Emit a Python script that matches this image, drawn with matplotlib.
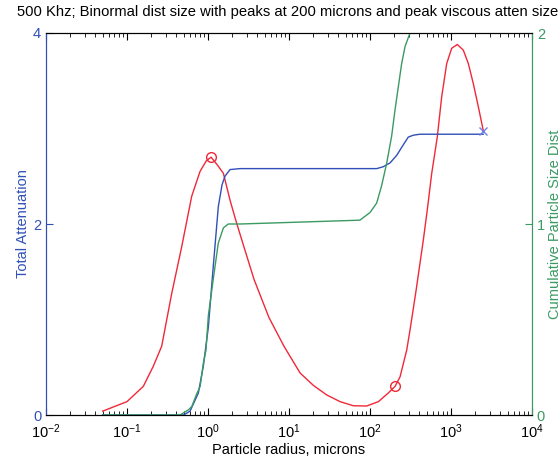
import numpy as np
import matplotlib
matplotlib.use('Agg')
import matplotlib.pyplot as plt
from matplotlib.ticker import LogLocator, NullFormatter

plt.rcParams['font.family'] = ['Liberation Sans', 'DejaVu Sans']
plt.rcParams['mathtext.fontset'] = 'custom'
plt.rcParams['mathtext.rm'] = 'Liberation Sans'
plt.rcParams['mathtext.default'] = 'regular'

# red: viscous attenuation vs radius (left axis)
red_r = [0.05, 0.1, 0.159, 0.211, 0.268, 0.356, 0.473, 0.629, 0.797, 0.95, 1.09, 1.3, 1.55,
         1.87, 2.15, 2.43, 3.7, 5.66, 8.67, 13.7, 20, 29.2, 42.7, 62, 91, 127, 168,
         204, 235, 284, 312, 370, 455, 510, 578, 677, 767, 885, 1020, 1197, 1420, 1637,
         1885, 2173, 2500]
red_att = [0.04, 0.14, 0.30, 0.51, 0.72, 1.27, 1.76, 2.29, 2.55, 2.66, 2.70, 2.62, 2.53,
           2.25, 2.07, 1.92, 1.42, 1.02, 0.72, 0.44, 0.31, 0.21, 0.14, 0.097, 0.094,
           0.14, 0.23, 0.30, 0.40, 0.68, 0.89, 1.3, 1.83, 2.15, 2.53, 2.91, 3.33, 3.68,
           3.84, 3.88, 3.82, 3.68, 3.47, 3.23, 2.98]

# blue: total (cumulative) attenuation (left axis)
blue_r = [0.05, 0.5, 0.6, 0.76, 0.875, 1.01, 1.16, 1.34, 1.49, 1.62, 1.87, 2.48, 121, 146,
          177, 214, 258, 297, 343, 414, 2500]
blue_att = [0, 0, 0.04, 0.23, 0.51, 0.92, 1.55, 2.18, 2.41, 2.50, 2.57, 2.58, 2.58, 2.60,
            2.64, 2.72, 2.83, 2.91, 2.93, 2.94, 2.94]

# green: cumulative particle size dist (right axis)
green_r = [0.05, 0.45, 0.57, 0.63, 0.725, 0.80, 0.875, 0.944, 1.01, 1.16, 1.34, 1.55, 1.78,
           2.5, 75, 100, 121, 139, 161, 185, 204, 224, 246, 271, 312, 350, 400, 500, 2500]
green_cum = [0, 0, 0.026, 0.044, 0.11, 0.15, 0.27, 0.34, 0.52, 0.71, 0.90, 0.98, 1.0,
             1.0, 1.02, 1.06, 1.11, 1.20, 1.32, 1.46, 1.60, 1.72, 1.84, 1.93, 2.00, 2.05,
             2.08, 2.1, 2.1]

peak_r = [1.09, 204]
peak_att = [2.70, 0.30]
end_r = [2500]
end_att = [2.97]

blue = '#3050b8'
green = '#3a9a62'
red = '#f02838'

fig = plt.figure(figsize=(5.58, 4.61), dpi=100)
ax = fig.add_axes([46/558, 1-415/461, 486/558, 382/461])
ax2 = ax.twinx()

ax.plot(red_r, red_att, color=red, lw=1)
ax.plot(peak_r, peak_att, 'o', mfc='none', mec=red, ms=7, mew=1)
ax.plot(blue_r, blue_att, color=blue, lw=1)
ax.plot(end_r, end_att, 'x', color='#7080e0', ms=6, mew=1)
ax2.plot(green_r, green_cum, color=green, lw=1)

ax.set_xscale('log')
ax.set_xlim(1e-2, 1e4)
ax.set_ylim(0, 4)
ax2.set_ylim(0, 2)
ax.set_yticks([0, 2, 4])
ax2.set_yticks([0, 1, 2])
ax.xaxis.set_major_locator(LogLocator(base=10, numticks=10))
ax.xaxis.set_minor_locator(LogLocator(base=10, subs=np.arange(2, 10), numticks=20))
ax.xaxis.set_minor_formatter(NullFormatter())

ax.tick_params(axis='x', which='both', direction='in', top=True, labelsize=10.5, pad=5)
ax.tick_params(axis='x', which='major', length=5)
ax.tick_params(axis='x', which='minor', length=3)
ax.tick_params(axis='y', direction='in', length=5, right=False, colors=blue, labelsize=10.5)
ax2.tick_params(axis='y', direction='in', length=5, left=False, colors=green, labelsize=10.5)

for a in (ax, ax2):
    a.spines['left'].set_color(blue)
    a.spines['right'].set_color(green)
    a.spines['top'].set_color('black')
    a.spines['bottom'].set_color('black')

ax.set_xlabel('Particle radius, microns', fontsize=10.5, labelpad=2)
ax.set_ylabel('Total Attenuation', color=blue, fontsize=10.5, labelpad=2)
ax2.set_ylabel('Cumulative Particle Size Dist', color=green, fontsize=10.5, labelpad=2)
fig.text(17/558, 1-12/461, '500 Khz; Binormal dist size with peaks at 200 microns and peak viscous atten size',
         ha='left', va='center', fontsize=10.6)

fig.savefig('out.png', dpi=100)
